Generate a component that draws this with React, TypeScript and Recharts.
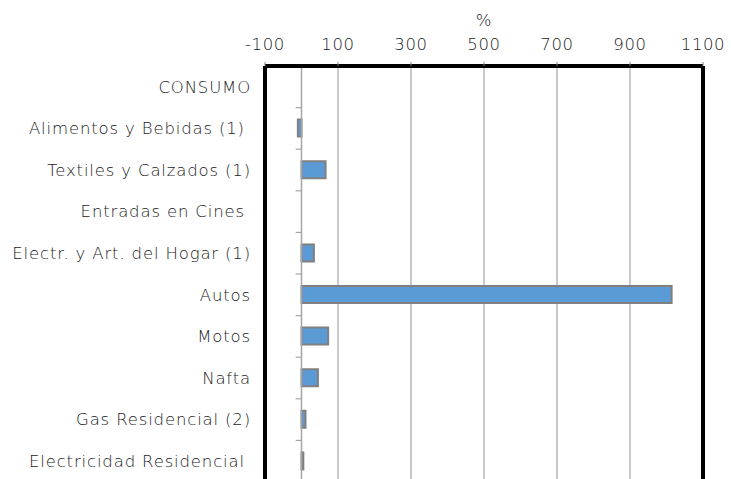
import { BarChart, Bar, XAxis, YAxis, CartesianGrid, ReferenceLine, Label } from 'recharts';

const categories = [
    'CONSUMO',
    'Alimentos y Bebidas (1)\u00a0',
    'Textiles y Calzados (1)',
    'Entradas en Cines\u00a0',
    'Electr. y Art. del Hogar (1)',
    'Autos',
    'Motos',
    'Nafta',
    'Gas Residencial (2)',
    'Electricidad Residencial\u00a0',
];
const values = [null, -10, 66, null, 34, 1014, 73, 45, 11, 5];
const xTicks = [-100, 100, 300, 500, 700, 900, 1100];

const data = categories.map((name, i) => ({ name, value: values[i] }));

const textStyle = {
    fill: '#1a1a1a',
    fontSize: 16.5,
    fontFamily: '"DejaVu Sans", sans-serif',
    fontWeight: 200,
    letterSpacing: 0.85,
};

export default function App() {
    return (
        <div style={{ position: 'absolute', left: 0, top: 0, width: 731, height: 479, overflow: 'hidden', background: '#fff' }}>
            <BarChart
                width={731}
                height={500}
                data={data}
                layout="vertical"
                margin={{ top: 36, right: 28, bottom: 18, left: 0 }}
                barCategoryGap={0}
            >
                <CartesianGrid horizontal={false} stroke="#a6a6a6" strokeWidth={1.2} />
                <XAxis
                    type="number"
                    orientation="top"
                    domain={[-100, 1100]}
                    ticks={xTicks}
                    height={30}
                    axisLine={{ stroke: '#000', strokeWidth: 4 }}
                    tickLine={{ stroke: '#808080' }}
                    tickSize={4}
                    tickMargin={12}
                    tick={{ ...textStyle, letterSpacing: 0.6 }}
                >
                    <Label value="%" position="top" offset={10} style={textStyle} />
                </XAxis>
                <YAxis
                    type="category"
                    dataKey="name"
                    width={265}
                    axisLine={false}
                    tickLine={false}
                    tickSize={0}
                    tickMargin={14}
                    interval={0}
                    tick={textStyle}
                />
                <ReferenceLine x={0} stroke="#a6a6a6" strokeWidth={1.5} />
                {categories.slice(1).map((c) => (
                    <ReferenceLine
                        key={c}
                        segment={[{ x: -16, y: c }, { x: 0, y: c }]}
                        position="start"
                        stroke="#a6a6a6"
                        strokeWidth={1.2}
                    />
                ))}
                <ReferenceLine x={-100} stroke="#000" strokeWidth={4} />
                <ReferenceLine x={1100} stroke="#000" strokeWidth={4} />
                <Bar dataKey="value" fill="#5b9bd5" stroke="#808080" strokeWidth={2} barSize={17} isAnimationActive={false} />
            </BarChart>
        </div>
    );
}
